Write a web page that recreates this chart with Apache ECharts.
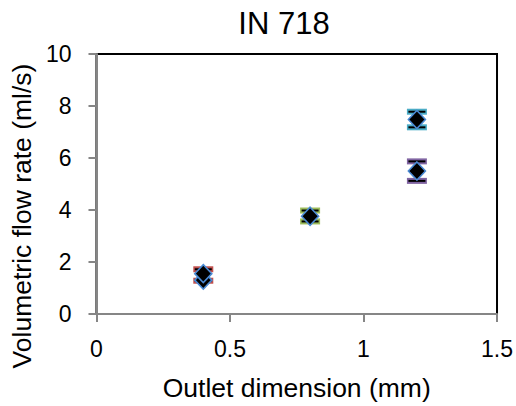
<!DOCTYPE html>
<html>
<head>
<meta charset="utf-8">
<script src="https://cdn.jsdelivr.net/npm/echarts@6/dist/echarts.min.js"></script>
<style>html,body{margin:0;padding:0;background:#fff}#c{width:516px;height:406px}</style>
</head>
<body>
<div id="c"></div>
<script>
// Data
const outletDims = [0.4, 0.8, 1.2, 1.2];
const flowRates = [1.55, 3.76, 5.50, 7.48];
const errLow = [1.28, 3.56, 5.12, 7.18];
const errHigh = [1.72, 3.98, 5.87, 7.78];
const extraX = [0.4];
const extraY = [1.30];
const xTicks = [0, 0.5, 1, 1.5];
const yTicks = [0, 2, 4, 6, 8, 10];

// Styles
const errColors = ['#C0504D', '#9BBB59', '#8064A2', '#4BACC6'];
const FONT = 'Liberation Sans, Arial, sans-serif';
const axisGray = '#868686';
const markerBorder = '#4A8AD4';

const chart = echarts.init(document.getElementById('c'), null, {renderer: 'svg'});

const errData = outletDims.map((x, i) => [x, errLow[i], errHigh[i]]);
const mainData = outletDims.map((x, i) => [x, flowRates[i]]);
const extraData = extraX.map((x, i) => [x, extraY[i]]);

chart.setOption({
  animation: false,
  backgroundColor: '#fff',
  title: {
    text: 'IN 718',
    left: 279,
    textAlign: 'center',
    top: 3,
    textStyle: {fontFamily: FONT, fontSize: 31, fontWeight: 'normal', color: '#000'}
  },
  grid: {left: 96, right: 17, top: 54, bottom: 91, show: true, borderColor: '#000', borderWidth: 2, backgroundColor: 'transparent'},
  xAxis: {
    type: 'value', min: xTicks[0], max: xTicks[xTicks.length - 1], interval: 0.5, z: 3,
    name: 'Outlet dimension (mm)', nameLocation: 'middle', nameGap: 60,
    nameTextStyle: {fontFamily: FONT, fontSize: 26.5, color: '#000'},
    axisLine: {show: true, lineStyle: {color: axisGray, width: 2}},
    axisTick: {show: true, inside: false, length: 8, lineStyle: {color: axisGray, width: 2}},
    axisLabel: {fontFamily: FONT, fontSize: 23, color: '#000', margin: 23},
    splitLine: {show: false}
  },
  yAxis: {
    type: 'value', min: yTicks[0], max: yTicks[yTicks.length - 1], interval: 2, z: 3,
    name: 'Volumetric flow rate (ml/s)', nameLocation: 'middle', nameGap: 59,
    nameTextStyle: {fontFamily: FONT, fontSize: 26.5, color: '#000', padding: [0, 64, 0, 0]},
    axisLine: {show: true, lineStyle: {color: axisGray, width: 2}},
    axisTick: {show: true, inside: false, length: 8, lineStyle: {color: axisGray, width: 2}},
    axisLabel: {fontFamily: FONT, fontSize: 23, color: '#000', margin: 25},
    splitLine: {show: false}
  },
  series: [
    {
      type: 'custom', z: 2,
      data: errData,
      renderItem: function (params, api) {
        const x = api.value(0);
        const lo = api.coord([x, api.value(1)]);
        const hi = api.coord([x, api.value(2)]);
        const c = errColors[params.dataIndex];
        const hw = 10;
        return {
          type: 'group',
          children: [
            {type: 'line', shape: {x1: lo[0] - hw, y1: lo[1], x2: lo[0] + hw, y2: lo[1]}, style: {stroke: c, lineWidth: 6}},
            {type: 'line', shape: {x1: hi[0] - hw, y1: hi[1], x2: hi[0] + hw, y2: hi[1]}, style: {stroke: c, lineWidth: 6}},
            {type: 'line', shape: {x1: lo[0], y1: lo[1], x2: hi[0], y2: hi[1]}, style: {stroke: '#000', lineWidth: 2}},
            {type: 'line', shape: {x1: lo[0] - hw + 1.5, y1: lo[1], x2: lo[0] + hw - 1.5, y2: lo[1]}, style: {stroke: '#000', lineWidth: 2}},
            {type: 'line', shape: {x1: hi[0] - hw + 1.5, y1: hi[1], x2: hi[0] + hw - 1.5, y2: hi[1]}, style: {stroke: '#000', lineWidth: 2}}
          ]
        };
      }
    },
    {
      type: 'scatter', z: 3, data: extraData, symbol: 'diamond', symbolSize: [17, 18],
      itemStyle: {color: '#000', borderColor: markerBorder, borderWidth: 1.6, opacity: 1}
    },
    {
      type: 'scatter', z: 4, data: mainData, symbol: 'diamond', symbolSize: [17, 18],
      itemStyle: {color: '#000', borderColor: markerBorder, borderWidth: 1.6, opacity: 1}
    }
  ]
});
</script>
</body>
</html>
